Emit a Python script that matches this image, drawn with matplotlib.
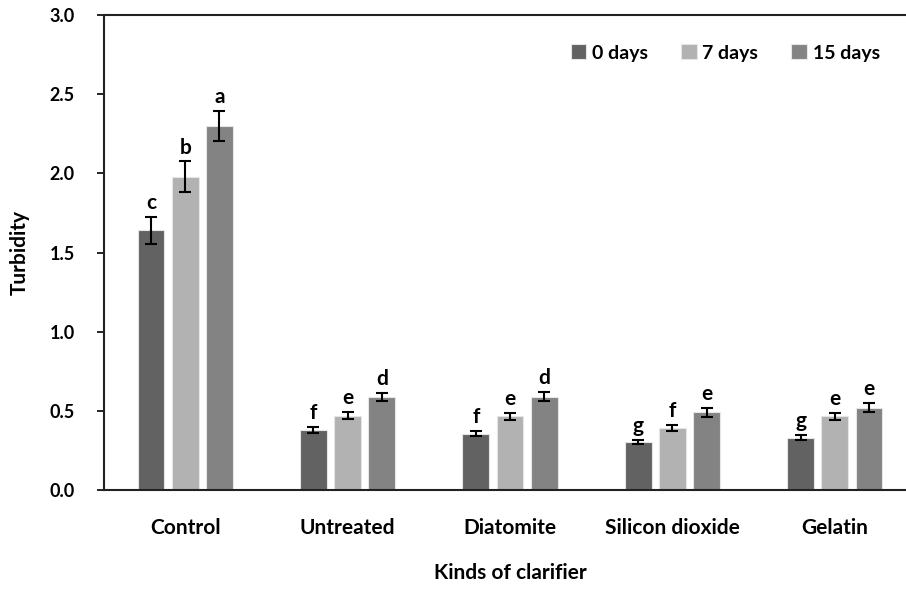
import matplotlib.pyplot as plt
import numpy as np

plt.rcParams['font.family'] = ['Lato', 'DejaVu Sans']
plt.rcParams['font.weight'] = 'bold'

categories = ['Control', 'Untreated', 'Diatomite', 'Silicon dioxide', 'Gelatin']
series_names = ['0 days', '7 days', '15 days']
day0 = [1.64, 0.38, 0.355, 0.305, 0.33]
day7 = [1.98, 0.47, 0.465, 0.39, 0.465]
day15 = [2.30, 0.59, 0.59, 0.49, 0.52]
err0 = [0.085, 0.02, 0.017, 0.012, 0.017]
err7 = [0.095, 0.022, 0.022, 0.02, 0.022]
err15 = [0.095, 0.025, 0.027, 0.03, 0.027]
letters0 = ['c', 'f', 'f', 'g', 'g']
letters7 = ['b', 'e', 'e', 'f', 'e']
letters15 = ['a', 'd', 'd', 'e', 'e']

colors = ['#626262', '#b2b2b2', '#838383']

fig = plt.figure(figsize=(9.06, 5.89), dpi=100)
# axes extends slightly past right edge like the cropped original
ax = fig.add_axes([104 / 906, 1 - 490 / 589, 812 / 906, 475 / 589])

x = np.arange(len(categories))
width = 0.165
step = 0.21
values = [day0, day7, day15]
errs = [err0, err7, err15]
letters = [letters0, letters7, letters15]
for k in range(3):
    pos = x + (k - 1) * step
    ax.bar(pos, values[k], width, color=colors[k], edgecolor='#e6e6e6',
           linewidth=0.8, label=series_names[k], zorder=2)
    ax.errorbar(pos, values[k], yerr=errs[k], fmt='none', ecolor='black',
                elinewidth=1.5, capsize=4, capthick=1.5, zorder=3)
    for p, v, e, t in zip(pos, values[k], errs[k], letters[k]):
        ax.text(p, v + e + 0.025, t, ha='center', va='bottom', fontsize=15,
                fontweight='bold')

ax.set_xlim(-0.5, 4.5)
ax.set_ylim(0, 3.0)
ax.set_yticks(np.arange(0, 3.01, 0.5))
ax.set_yticklabels([f'{v:.1f}' for v in np.arange(0, 3.01, 0.5)])
ax.set_xticks(x)
ax.set_xticklabels(categories, fontsize=15, fontweight='bold')
ax.tick_params(axis='x', length=0, pad=20)
ax.tick_params(axis='y', direction='out', length=5, width=1.2, labelsize=13, pad=16)
for s in ['left', 'top', 'bottom']:
    ax.spines[s].set_linewidth(1.5)
    ax.spines[s].set_color('#222222')
ax.spines['right'].set_visible(False)

ax.set_xlabel('Kinds of clarifier', fontsize=15, fontweight='bold', labelpad=18)
ax.set_ylabel('Turbidity', fontsize=15, fontweight='bold', labelpad=14)

ax.legend(loc='upper left', bbox_to_anchor=(0.553, 0.975), ncol=3, frameon=False,
          fontsize=14, handlelength=0.8, handleheight=0.8, handletextpad=0.3,
          columnspacing=1.7)

fig.savefig('out.png', dpi=100)
